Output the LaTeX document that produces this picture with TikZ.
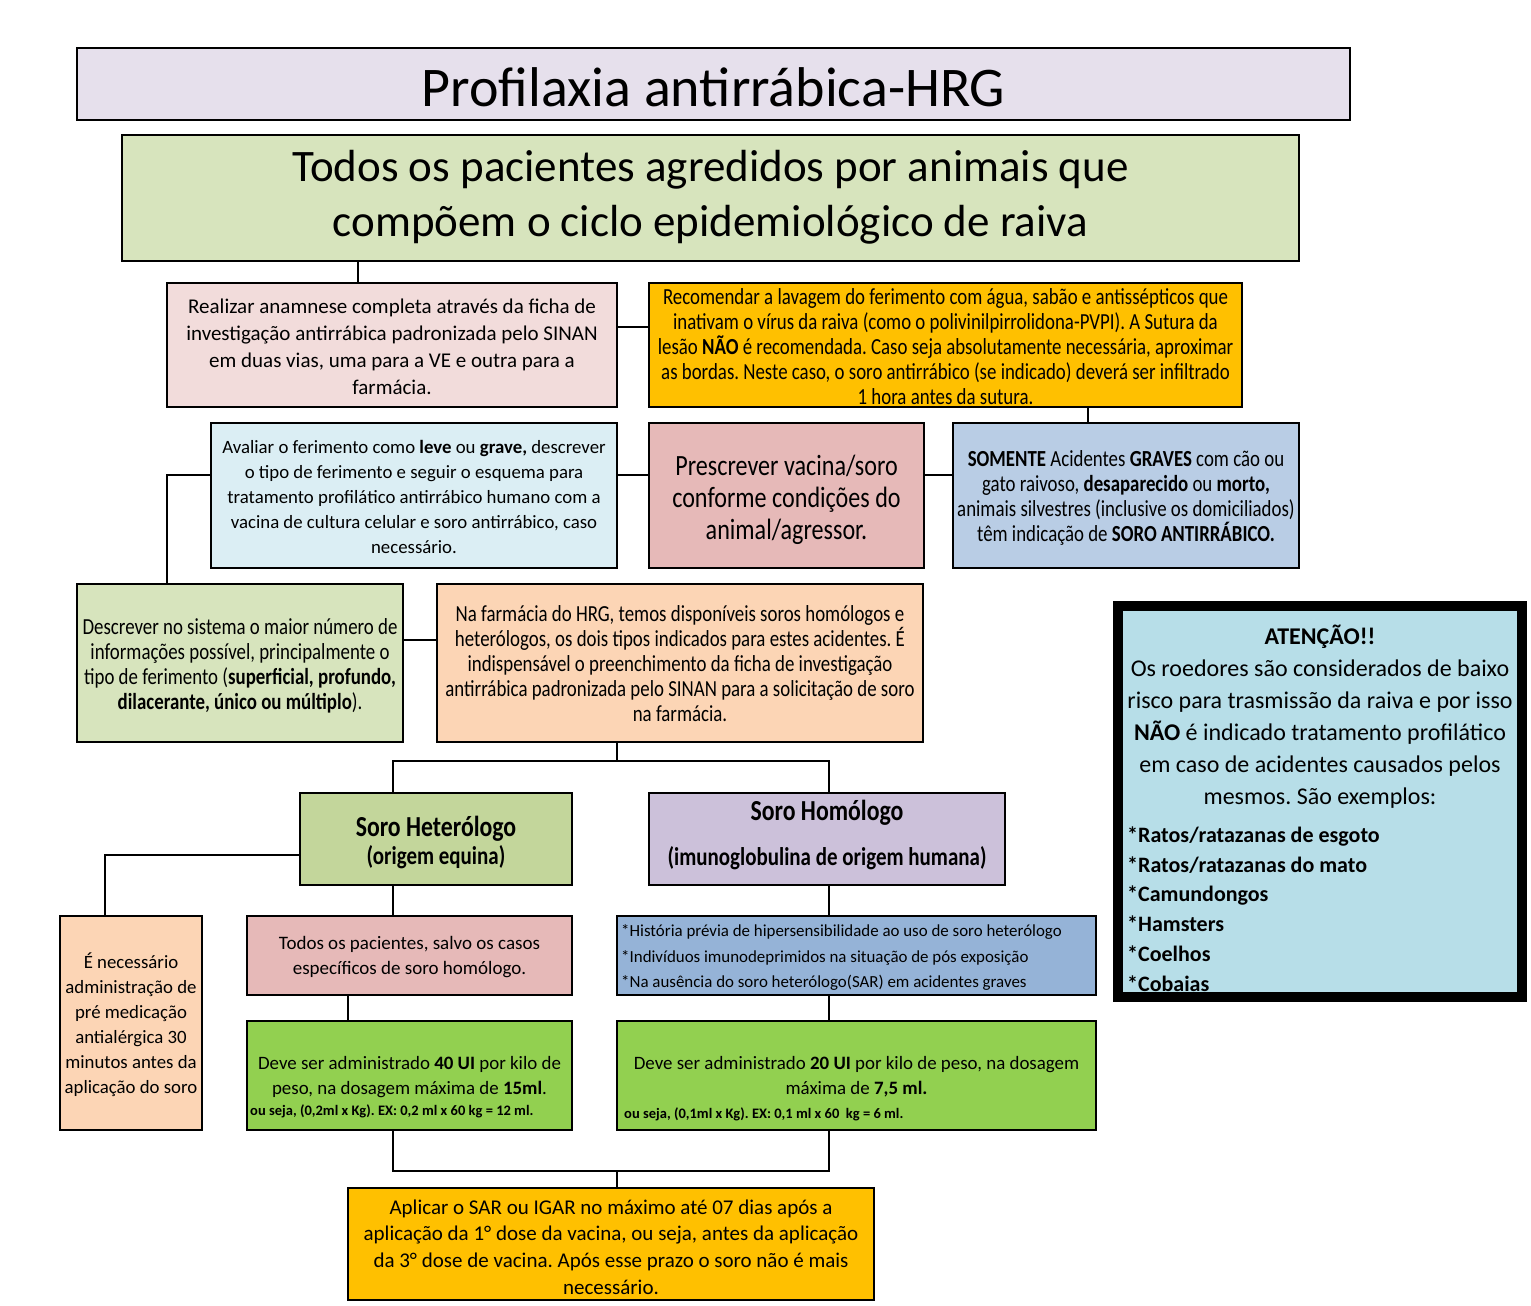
\documentclass[tikz,border=0pt]{standalone}
\usepackage{fontspec}
\setmainfont{Carlito}
\newfontfamily\condf{Carlito}[FakeStretch=0.82]
\newcommand\fsz[2]{\fontsize{#1}{#2}\selectfont}
\definecolor{cTitle}{HTML}{E6E0EC}
\definecolor{cMain}{HTML}{D7E4BD}
\definecolor{cAna}{HTML}{F2DCDB}
\definecolor{cOrange}{HTML}{FFC000}
\definecolor{cAva}{HTML}{DBEEF4}
\definecolor{cRose}{HTML}{E6B9B8}
\definecolor{cSom}{HTML}{B9CDE5}
\definecolor{cPeach}{HTML}{FCD5B5}
\definecolor{cHet}{HTML}{C3D69B}
\definecolor{cHom}{HTML}{CCC1DA}
\definecolor{cList}{HTML}{95B3D7}
\definecolor{cGreen}{HTML}{92D050}
\definecolor{cAtt}{HTML}{B7DEE8}
\frenchspacing
\begin{document}
\begin{tikzpicture}[x=1pt,y=-1pt,
  box/.style={draw=black, line width=2.4pt, inner sep=0pt, rectangle},
  txt/.style={inner sep=0pt, align=center, text=black},
  txl/.style={inner sep=0pt, align=left, anchor=west, text=black},
  conn/.style={draw=black, line width=2.4pt}]
\useasboundingbox (0,0) rectangle (1531,1306);
\fill[white] (0,0) rectangle (1531,1306);

% boxes
\node[box, fill=cTitle, minimum width=1273pt, minimum height=72pt] (title) at (713.5,84) {};
\node[box, fill=cMain, minimum width=1177pt, minimum height=126pt] (main) at (710.5,198) {};
\node[box, fill=cAna, minimum width=450pt, minimum height=124pt] (ana) at (392,345) {};
\node[box, fill=cOrange, minimum width=593pt, minimum height=124pt] (rec) at (945.5,345) {};
\node[box, fill=cAva, minimum width=406pt, minimum height=145pt] (ava) at (414,495.5) {};
\node[box, fill=cRose, minimum width=275pt, minimum height=145pt] (pre) at (786.5,495.5) {};
\node[box, fill=cSom, minimum width=346pt, minimum height=145pt] (som) at (1126,495.5) {};
\node[box, fill=cMain, minimum width=326pt, minimum height=158pt] (des) at (240,663) {};
\node[box, fill=cPeach, minimum width=486pt, minimum height=158pt] (far) at (680,663) {};
\node[box, fill=cHet, minimum width=272pt, minimum height=92pt] (het) at (436,839) {};
\node[box, fill=cHom, minimum width=356pt, minimum height=92pt] (hom) at (827,839) {};
\node[box, fill=cPeach, minimum width=142pt, minimum height=214pt] (nec) at (131,1023) {};
\node[box, fill=cRose, minimum width=325pt, minimum height=79pt] (tod) at (409.5,955.5) {};
\node[box, fill=cList, minimum width=479pt, minimum height=79pt] (lis) at (856.5,955.5) {};
\node[box, fill=cGreen, minimum width=325pt, minimum height=109pt] (grL) at (409.5,1075.5) {};
\node[box, fill=cGreen, minimum width=479pt, minimum height=109pt] (grR) at (856.5,1075.5) {};
\node[box, fill=cOrange, minimum width=526pt, minimum height=112pt] (fin) at (611,1244) {};
\node[box, line width=10pt, fill=cAtt, minimum width=404pt, minimum height=391pt] (att) at (1320,801.5) {};

% coordinates for connectors
\coordinate (xa) at (358,0);
\coordinate (xb) at (1088,0);
\coordinate (xc) at (167,0);
\coordinate (xe) at (393,0);
\coordinate (xf) at (829,0);
\coordinate (xg) at (105,0);
\coordinate (xh) at (348,0);
\coordinate (ya) at (0,327);
\coordinate (yb) at (0,475);
\coordinate (yc) at (0,640);
\coordinate (ye) at (0,855);
\coordinate (jL) at (393,761);
\coordinate (jR) at (829,761);
\coordinate (jC) at (617,761);
\coordinate (bL) at (393,1171);
\coordinate (bR) at (829,1171);
\coordinate (bC) at (617,1171);

% connectors
\draw[conn] (main.south -| xa) -- (ana.north -| xa);
\draw[conn] (ana.east |- ya) -- (rec.west |- ya);
\draw[conn] (rec.south -| xb) -- (som.north -| xb);
\draw[conn] (ava.east |- yb) -- (pre.west |- yb);
\draw[conn] (pre.east |- yb) -- (som.west |- yb);
\draw[conn] (ava.west |- yb) -| (des.north -| xc);
\draw[conn] (des.east |- yc) -- (far.west |- yc);
\draw[conn] (far.south -| jC) -- (jC);
\draw[conn] (het.north -| jL) -- (jL) -- (jR) -- (hom.north -| jR);
\draw[conn] (het.west |- ye) -| (nec.north -| xg);
\draw[conn] (het.south -| xe) -- (tod.north -| xe);
\draw[conn] (tod.south -| xh) -- (grL.north -| xh);
\draw[conn] (hom.south -| xf) -- (lis.north -| xf);
\draw[conn] (lis.south -| xf) -- (grR.north -| xf);
\draw[conn] (grL.south -| bL) -- (bL) -- (bR) -- (grR.south -| bR);
\draw[conn] (bC) -- (fin.north -| bC);

% texts
\node[txt, font=\fsz{56}{67}] (t-title) at (713.5,87) {Profilaxia antirrábica-HRG};
\node[txt, font=\fsz{45}{55}] (t-main) at (710.5,197.5) {Todos os pacientes agredidos por animais que\\compõem o ciclo epidemiológico de raiva};
\node[txt, font=\fsz{21}{27}] (t-ana) at (392,346.5) {Realizar anamnese completa através da ficha de\\investigação antirrábica padronizada pelo SINAN\\em duas vias, uma para a VE e outra para a\\farmácia.};
\node[txt, font=\condf\fsz{23}{25}] (t-rec) at (945.5,347) {Recomendar a lavagem do ferimento com água, sabão e antissépticos que\\inativam o vírus da raiva (como o polivinilpirrolidona-PVPI). A Sutura da\\lesão \textbf{NÃO} é recomendada. Caso seja absolutamente necessária, aproximar\\as bordas. Neste caso, o soro antirrábico (se indicado) deverá ser infiltrado\\1 hora antes da sutura.};
\node[txt, font=\fsz{18.8}{25}] (t-ava) at (414,497) {Avaliar o ferimento como \textbf{leve} ou \textbf{grave,} descrever\\o tipo de ferimento e seguir o esquema para\\tratamento profilático antirrábico humano com a\\vacina de cultura celular e soro antirrábico, caso\\necessário.};
\node[txt, font=\condf\fsz{29.4}{32}] (t-pre) at (786.5,500) {Prescrever vacina/soro\\conforme condições do\\animal/agressor.};
\node[txt, font=\condf\fsz{23}{25}] (t-som) at (1126,497.5) {\textbf{SOMENTE} Acidentes \textbf{GRAVES} com cão ou\\gato raivoso, \textbf{desaparecido} ou \textbf{morto,}\\animais silvestres (inclusive os domiciliados)\\têm indicação de \textbf{SORO ANTIRRÁBICO.}};
\node[txt, font=\condf\fsz{23}{25}] (t-des) at (240,665.5) {Descrever no sistema o maior número de\\informações possível, principalmente o\\tipo de ferimento (\textbf{superficial, profundo,}\\\textbf{dilacerante, único ou múltiplo}).};
\node[txt, font=\condf\fsz{23}{25}] (t-far) at (680,664) {Na farmácia do HRG, temos disponíveis soros homólogos e\\heterólogos, os dois tipos indicados para estes acidentes. É\\indispensável o preenchimento da ficha de investigação\\antirrábica padronizada pelo SINAN para a solicitação de soro\\na farmácia.};
\node[txt, font=\condf\bfseries\fsz{29}{32}] (t-het1) at (436,829) {Soro Heterólogo};
\node[txt, font=\condf\bfseries\fsz{25.6}{30}] (t-het2) at (436,857) {(origem equina)};
\node[txt, font=\condf\bfseries\fsz{29}{32}] (t-hom1) at (827,813) {Soro Homólogo};
\node[txt, font=\condf\bfseries\fsz{25.6}{30}] (t-hom2) at (827,858) {(imunoglobulina de origem humana)};
\node[txt, font=\fsz{18.8}{25}] (t-nec) at (131,1025) {É necessário\\administração de\\pré medicação\\antialérgica 30\\minutos antes da\\aplicação do soro};
\node[txt, font=\fsz{19}{25}] (t-tod) at (409.5,957.5) {Todos os pacientes, salvo os casos\\específicos de soro homólogo.};
\node[txl, font=\fsz{16.9}{25.5}] (t-lis) at (621,957.5) {*História prévia de hipersensibilidade ao uso de soro heterólogo\\*Indivíduos imunodeprimidos na situação de pós exposição\\*Na ausência do soro heterólogo(SAR) em acidentes graves};
\node[txt, font=\fsz{18.9}{25}] (t-grL) at (409.5,1077) {Deve ser administrado \textbf{40 UI} por kilo de\\peso, na dosagem máxima de \textbf{15ml}.};
\node[txl, font=\bfseries\fsz{14.5}{17}] (t-grL2) at (250,1111) {ou seja, (0,2ml x Kg). EX: 0,2 ml x 60 kg = 12 ml.};
\node[txt, font=\fsz{18.9}{25}] (t-grR) at (856.5,1077) {Deve ser administrado \textbf{20 UI} por kilo de peso, na dosagem\\máxima de \textbf{7,5 ml.}};
\node[txl, font=\bfseries\fsz{14.5}{17}] (t-grR2) at (624,1114) {ou seja, (0,1ml x Kg). EX: 0,1 ml x 60\ \ kg = 6 ml.};
\node[txt, font=\fsz{21}{26.7}] (t-fin) at (611,1247) {Aplicar o SAR ou IGAR no máximo até 07 dias após a\\aplicação da 1° dose da vacina, ou seja, antes da aplicação\\da 3° dose de vacina. Após esse prazo o soro não é mais\\necessário.};
\node[txt, font=\fsz{24}{32}] (t-att) at (1320,716.5) {\textbf{ATENÇÃO!!}\\Os roedores são considerados de baixo\\risco para trasmissão da raiva e por isso\\\textbf{NÃO} é indicado tratamento profilático\\em caso de acidentes causados pelos\\mesmos. São exemplos:};
\node[txl, font=\bfseries\fsz{22}{29.8}] (t-att2) at (1127,909) {*Ratos/ratazanas de esgoto\\*Ratos/ratazanas do mato\\*Camundongos\\*Hamsters\\*Coelhos\\*Cobaias};
\end{tikzpicture}
\end{document}
